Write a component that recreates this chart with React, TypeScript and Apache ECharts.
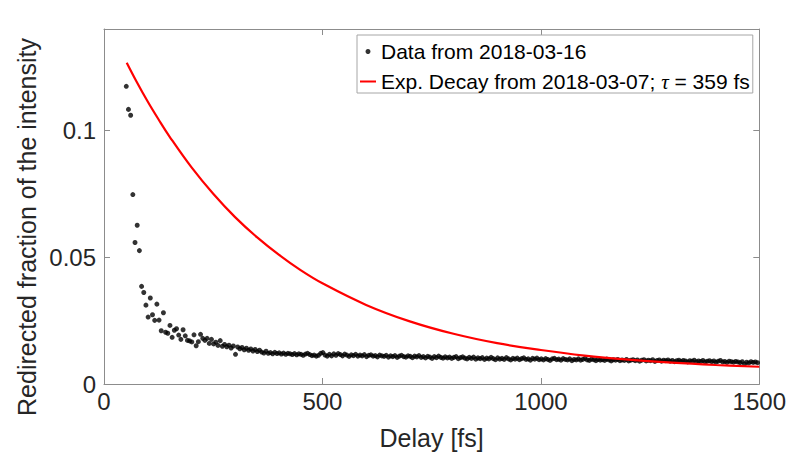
import React, { useEffect, useRef } from "react";
import * as echarts from "echarts";

const delays = [
  51, 56, 61, 66, 71, 76, 81, 86, 91, 96,
  101, 106, 111, 116, 121, 126, 131, 136, 141, 146,
  151, 156, 161, 166, 171, 176, 181, 186, 191, 196,
  201, 206, 211, 216, 221, 226, 231, 236,
  241, 246, 251, 256, 261, 266, 271, 276, 281, 286,
  291, 296, 301, 306, 311, 316, 321, 326, 331, 336,
  341, 346, 351, 356, 361, 366, 371, 376, 381, 386,
  391, 396, 401, 406, 411, 416, 421, 426, 431, 436,
  441, 446, 451, 456, 461, 466, 471, 476, 481, 486,
  491, 496, 501, 506, 511, 516, 521, 526, 531, 536,
  541, 546, 551, 556, 561, 566, 571, 576, 581, 586,
  591, 596, 601, 606, 611, 616, 621, 626, 631, 636,
  641, 646, 651, 656, 661, 666, 671, 676, 681, 686,
  691, 696, 701, 706, 711, 716, 721, 726, 731, 736,
  741, 746, 751, 756, 761, 766, 771, 776, 781, 786,
  791, 796, 801, 806, 811, 816, 821, 826, 831, 836,
  841, 846, 851, 856, 861, 866, 871, 876, 881, 886,
  891, 896, 901, 906, 911, 916, 921, 926, 931, 936,
  941, 946, 951, 956, 961, 966, 971, 976, 981, 986,
  991, 996, 1001, 1006, 1011, 1016, 1021, 1026, 1031, 1036,
  1041, 1046, 1051, 1056, 1061, 1066, 1071, 1076, 1081, 1086,
  1091, 1096, 1101, 1106, 1111, 1116, 1121, 1126, 1131, 1136,
  1141, 1146, 1151, 1156, 1161, 1166, 1171, 1176, 1181, 1186,
  1191, 1196, 1201, 1206, 1211, 1216, 1221, 1226, 1231, 1236,
  1241, 1246, 1251, 1256, 1261, 1266, 1271, 1276, 1281, 1286,
  1291, 1296, 1301, 1306, 1311, 1316, 1321, 1326, 1331, 1336,
  1341, 1346, 1351, 1356, 1361, 1366, 1371, 1376, 1381, 1386,
  1391, 1396, 1401, 1406, 1411, 1416, 1421, 1426, 1431, 1436,
  1441, 1446, 1451, 1456, 1461, 1466, 1471, 1476, 1481, 1486,
  1491, 1496,
];

const intensity = [
  0.1174, 0.1083, 0.1060, 0.0747, 0.0558, 0.0626, 0.0526, 0.0385, 0.0361, 0.0311,
  0.0264, 0.0339, 0.0273, 0.0251, 0.0315, 0.0252, 0.0210, 0.0281, 0.0204, 0.0200,
  0.0231, 0.0184, 0.0212, 0.0218, 0.0193, 0.0176, 0.0214, 0.0190, 0.0172, 0.0170,
  0.0166, 0.0194, 0.0151, 0.0167, 0.0196, 0.0180, 0.0172, 0.0180,
  0.0160, 0.0176, 0.0158, 0.0165, 0.0152, 0.0171, 0.0149, 0.0156, 0.0147, 0.0153,
  0.0142, 0.0150, 0.0117, 0.0146, 0.0139, 0.0144, 0.0135, 0.0141, 0.0133, 0.0138,
  0.0130, 0.0136, 0.0128, 0.0133, 0.0126, 0.0122, 0.0129, 0.0121, 0.0124, 0.0119,
  0.0125, 0.0120, 0.0123, 0.0118, 0.0122, 0.0117, 0.0121, 0.0119, 0.0116, 0.0120,
  0.0115, 0.0119, 0.0117, 0.0113, 0.0118, 0.0121, 0.0116, 0.0112, 0.0114, 0.0110,
  0.0113, 0.0121, 0.0124, 0.0114, 0.0110, 0.0117, 0.0111, 0.0119, 0.0113, 0.0120,
  0.0116, 0.0111, 0.0118, 0.0114, 0.0109, 0.0115, 0.0112, 0.0117, 0.0110, 0.0114,
  0.0111, 0.0116, 0.0108, 0.0113, 0.0115, 0.0110, 0.0112, 0.0107, 0.0114, 0.0111,
  0.0109, 0.0113, 0.0106, 0.0111, 0.0108, 0.0112, 0.0105, 0.0110, 0.0113, 0.0108,
  0.0106, 0.0111, 0.0109, 0.0104, 0.0110, 0.0107, 0.0112, 0.0105, 0.0108, 0.0103,
  0.0109, 0.0106, 0.0101, 0.0108, 0.0104, 0.0110, 0.0105, 0.0102, 0.0107, 0.0103,
  0.0106, 0.0101, 0.0105, 0.0108, 0.0100, 0.0104, 0.0107, 0.0102, 0.0099, 0.0105,
  0.0101, 0.0106, 0.0098, 0.0103, 0.0100, 0.0104, 0.0097, 0.0102, 0.0099, 0.0105,
  0.0100, 0.0096, 0.0103, 0.0098, 0.0101, 0.0097, 0.0104, 0.0099, 0.0095, 0.0101,
  0.0098, 0.0102, 0.0096, 0.0100, 0.0103, 0.0097, 0.0099, 0.0094, 0.0101, 0.0098,
  0.0102, 0.0096, 0.0099, 0.0095, 0.0100, 0.0097, 0.0093, 0.0099, 0.0101, 0.0096,
  0.0098, 0.0094, 0.0100, 0.0097, 0.0095, 0.0099, 0.0092, 0.0097, 0.0095, 0.0099,
  0.0094, 0.0097, 0.0101, 0.0095, 0.0093, 0.0098, 0.0096, 0.0092, 0.0097, 0.0094,
  0.0096, 0.0093, 0.0098, 0.0095, 0.0091, 0.0096, 0.0094, 0.0097, 0.0092, 0.0095,
  0.0093, 0.0097, 0.0091, 0.0094, 0.0096, 0.0092, 0.0095, 0.0090, 0.0094, 0.0096,
  0.0091, 0.0094, 0.0092, 0.0096, 0.0089, 0.0093, 0.0095, 0.0090, 0.0094, 0.0092,
  0.0095, 0.0090, 0.0093, 0.0088, 0.0092, 0.0094, 0.0089, 0.0093, 0.0091, 0.0087,
  0.0092, 0.0090, 0.0094, 0.0088, 0.0091, 0.0089, 0.0093, 0.0087, 0.0090, 0.0092,
  0.0088, 0.0091, 0.0086, 0.0090, 0.0093, 0.0087, 0.0089, 0.0085, 0.0090, 0.0088,
  0.0086, 0.0089, 0.0087, 0.0084, 0.0088, 0.0079, 0.0086, 0.0083, 0.0088, 0.0085,
  0.0087, 0.0084,
];

const fitDelays = [52, 75, 100, 125, 150, 200, 250, 300, 350, 400, 450, 500, 600, 700, 800, 900, 1000, 1100, 1200, 1300, 1400, 1500];
const fitValues = [0.1267, 0.1191, 0.1114, 0.1043, 0.0976, 0.0855, 0.0750, 0.0658, 0.0579, 0.0510, 0.0449, 0.0397, 0.0312, 0.0247, 0.0198, 0.0161, 0.0134, 0.0112, 0.0096, 0.0084, 0.0075, 0.0068];

const xTicks = [0, 500, 1000, 1500];
const yTicks = [0, 0.05, 0.1];

const dataName = "Data from 2018-03-16";
const fitName = "Exp. Decay from 2018-03-07; τ = 359 fs";
const xTitle = "Delay [fs]";
const yTitle = "Redirected fraction of the intensity";

const FRAME = "#8c8c8c";
const TEXT = "#262626";
const TICK_FONT = "'Liberation Sans Narrow', 'Liberation Sans', Arial, sans-serif";
const FONT = "'Liberation Sans', Arial, sans-serif";
const LINE_ICON = "path://M0 1.5H16V3.5H0Z M0 0H0.01V0.01H0Z M15.99 4.99H16V5H15.99Z";

export default function App() {
  const ref = useRef<HTMLDivElement>(null);
  useEffect(() => {
    if (!ref.current) return;
    const chart = echarts.init(ref.current, undefined, { renderer: "svg" });
    const axisLine = { show: true, onZero: false, lineStyle: { color: FRAME, width: 1 } };
    const tick = (vals: number[]) => ({
      show: true,
      inside: true,
      length: 6,
      customValues: vals,
      lineStyle: { color: FRAME },
    });
    const fmt = (v: number) => String(v);
    chart.setOption({
      animation: false,
      backgroundColor: "#ffffff",
      grid: { left: 104, right: 28, top: 29, bottom: 71, containLabel: false },
      xAxis: [
        {
          type: "value",
          position: "bottom",
          min: 0,
          max: 1500,
          interval: 500,
          axisLine,
          splitLine: { show: false },
          axisTick: tick(xTicks),
          axisLabel: {
            customValues: xTicks,
            formatter: fmt,
            margin: 5,
            color: TEXT,
            fontFamily: TICK_FONT,
            fontSize: 24,
          },
          name: xTitle,
          nameLocation: "middle",
          nameGap: 41,
          nameTextStyle: { color: TEXT, fontFamily: FONT, fontSize: 25 },
        },
        {
          type: "value",
          position: "top",
          min: 0,
          max: 1500,
          interval: 500,
          axisLine,
          splitLine: { show: false },
          axisTick: tick(xTicks),
          axisLabel: { show: false },
        },
      ],
      yAxis: [
        {
          type: "value",
          position: "left",
          min: 0,
          max: 0.14,
          axisLine,
          splitLine: { show: false },
          axisTick: tick(yTicks),
          axisLabel: {
            customValues: yTicks,
            formatter: fmt,
            margin: 8,
            color: TEXT,
            fontFamily: TICK_FONT,
            fontSize: 24,
          },
        },
        {
          type: "value",
          position: "right",
          min: 0,
          max: 0.14,
          axisLine,
          splitLine: { show: false },
          axisTick: tick(yTicks),
          axisLabel: { show: false },
        },
      ],
      legend: {
        orient: "vertical",
        left: 357,
        top: 35,
        padding: [6, 3, 1, 3],
        itemGap: 9,
        itemWidth: 16,
        itemHeight: 5,
        backgroundColor: "#ffffff",
        borderColor: "#a6a6a6",
        borderWidth: 1,
        borderRadius: 0,
        textStyle: {
          color: "#000000",
          fontFamily: FONT,
          fontSize: 21,
          lineHeight: 21,
          rich: {
            i: {
              fontStyle: "italic",
              fontFamily: "'Liberation Serif', serif",
              fontSize: 21,
              lineHeight: 21,
              color: "#000000",
            },
          },
        },
        formatter: (name: string) => name.replace("τ", "{i|τ}"),
        data: [
          { name: dataName, icon: "circle", itemStyle: { color: "#000000" } },
          { name: fitName, icon: LINE_ICON, itemStyle: { color: "#ff0000" } },
        ],
      },
      graphic: [
        {
          type: "text",
          x: 27,
          y: 227,
          rotation: Math.PI / 2,
          style: {
            text: yTitle,
            font: `25px ${FONT}`,
            fill: TEXT,
            align: "center",
            verticalAlign: "middle",
          },
        },
      ],
      series: [
        {
          name: dataName,
          type: "scatter",
          xAxisIndex: 0,
          yAxisIndex: 0,
          symbol: "circle",
          symbolSize: 5,
          itemStyle: { color: "#000000" },
          data: delays.map((d, i) => [d, intensity[i]]),
          z: 2,
        },
        {
          name: fitName,
          type: "line",
          xAxisIndex: 0,
          yAxisIndex: 0,
          smooth: 0.4,
          symbol: "none",
          lineStyle: { color: "#ff0000", width: 2.2 },
          itemStyle: { color: "#ff0000" },
          data: fitDelays.map((d, i) => [d, fitValues[i]]),
          z: 3,
        },
      ],
    });
    return () => chart.dispose();
  }, []);
  return <div ref={ref} style={{ width: 789, height: 455, position: "absolute", left: 0, top: 0 }} />;
}
